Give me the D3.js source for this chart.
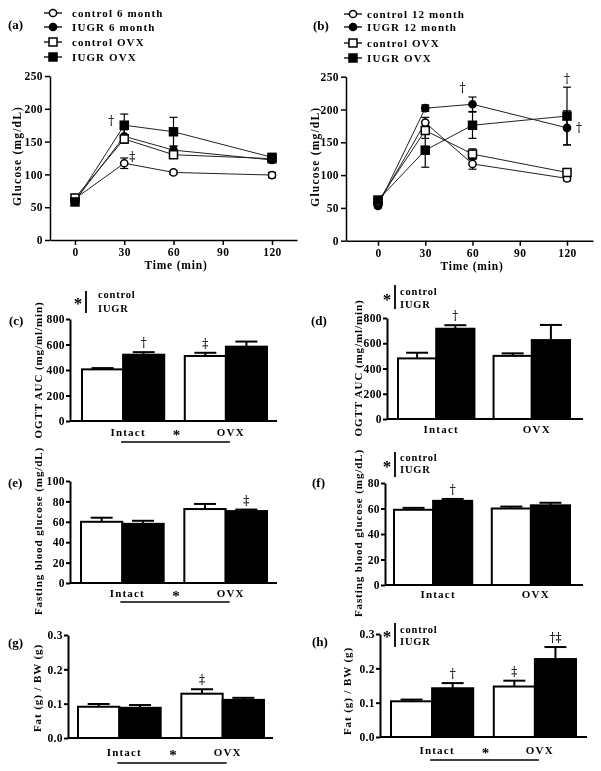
<!DOCTYPE html>
<html><head><meta charset="utf-8">
<script src="https://cdn.jsdelivr.net/npm/d3@7"></script>
<style>
body{margin:0;background:#fff;}
#chart{filter:grayscale(1);}
svg text{font-family:"Liberation Serif","Times New Roman",serif;font-weight:bold;fill:#000;}
svg text.mark{font-family:"DejaVu Serif",serif;font-weight:normal;fill:#000;}
</style></head><body>
<svg id="chart" width="601" height="771"></svg>
<script>
// ---------------- DATA ----------------
const times = [0, 30, 60, 120];
const timeTicks = [0, 30, 60, 90, 120];
const legendA = ["control 6 month", "IUGR 6 month", "control OVX", "IUGR OVX"];
const legendB = ["control 12 month", "IUGR 12 month", "control OVX", "IUGR OVX"];
// panel (a)
const aControl6 = [63, 117, 103, 99];
const aIUGR6 = [60, 158, 137, 122];
const aControlOVX = [64, 154, 130, 124];
const aIUGROVX = [58, 175, 165, 126];
const aControl6Err = [3, 8, 3, 4];
const aIUGR6Err = [3, 10, 6, 4];
const aControlOVXErr = [3, 6, 5, 3];
const aIUGROVXErr = [3, 17, 22, 4];
// panel (b)
const bControl12 = [56, 180, 117, 95];
const bIUGR12 = [53, 202, 208, 172];
const bControlOVX = [60, 168, 132, 104];
const bIUGROVX = [62, 138, 176, 190];
const bControl12Err = [3, 8, 8, 4];
const bIUGR12Err = [3, 5, 11, 26];
const bControlOVXErr = [4, 12, 8, 4];
const bIUGROVXErr = [4, 26, 20, 44];
const glucoseTicks = [0, 50, 100, 150, 200, 250];

// bar panels
const groups = ["Intact", "OVX"];
const barSeries = ["control", "IUGR"];
const aucTicks = [0, 200, 400, 600, 800];
const cControl = [405, 510], cIUGR = [520, 583];
const cControlErr = [10, 25], cIUGRErr = [20, 40];
const dControl = [480, 500], dIUGR = [715, 625];
const dControlErr = [45, 20], dIUGRErr = [28, 120];
const eTicks = [0, 20, 40, 60, 80, 100];
const eControl = [60, 72.5], eIUGR = [58, 70.5];
const eControlErr = [4, 5], eIUGRErr = [3, 1.5];
const fTicks = [0, 20, 40, 60, 80];
const fControl = [59, 60], fIUGR = [66, 62.5];
const fControlErr = [1.5, 1.5], fIUGRErr = [1.5, 2];
const fatTicks = [0, 0.1, 0.2, 0.3];
const gControl = [0.091, 0.129], gIUGR = [0.088, 0.111];
const gControlErr = [0.008, 0.013], gIUGRErr = [0.008, 0.006];
const hControl = [0.104, 0.147], hIUGR = [0.142, 0.227];
const hControlErr = [0.005, 0.017], hIUGRErr = [0.015, 0.035];

// ---------------- DRAW ----------------
const svg = d3.select("#chart");
svg.append("rect").attr("width", 601).attr("height", 771).attr("fill", "#fff");

function styleAxis(g, sw) {
  g.selectAll("path,line").attr("stroke", "#000").attr("stroke-width", sw);
  g.selectAll("text").attr("font-size", 11.5).attr("fill", "#000").attr("letter-spacing", 0.4)
    .style("font-family", '"Liberation Serif",serif').style("font-weight", "bold");
}

function marker(g, type, cx, cy) {
  const open = type % 2 === 0;
  if (type < 2) {
    g.append("circle").attr("cx", cx).attr("cy", cy).attr("r", 3.6)
      .attr("fill", open ? "#fff" : "#000").attr("stroke", "#000").attr("stroke-width", 1.5);
  } else {
    g.append("rect").attr("x", cx - 4).attr("y", cy - 4).attr("width", 8).attr("height", 8)
      .attr("fill", open ? "#fff" : "#000").attr("stroke", "#000").attr("stroke-width", 1.5);
  }
}

function mark(g, x, y, t) {
  g.append("text").attr("class", "mark").attr("x", x).attr("y", y)
    .attr("text-anchor", "middle").attr("font-size", 12).text(t);
}

function linePanel(o) {
  const g = svg.append("g");
  const xs = d3.scaleLinear().domain([0, 120]).range([o.x0px, o.x120px]);
  const x = xs.copy().domain([xs.invert(o.left), xs.invert(o.right)]).range([o.left, o.right]);
  const y = d3.scaleLinear().domain([0, 250]).range([o.y0, o.yTop]);
  const ya = g.append("g").attr("transform", `translate(${o.left},0)`)
    .call(d3.axisLeft(y).tickValues(glucoseTicks).tickSize(5).tickSizeOuter(0).tickPadding(2));
  styleAxis(ya, 1.5);
  const xa = g.append("g").attr("transform", `translate(0,${o.y0})`)
    .call(d3.axisBottom(x).tickValues(timeTicks).tickSize(5).tickSizeOuter(0).tickPadding(3));
  styleAxis(xa, 1.5);
  g.append("text").attr("x", o.xlabelX).attr("y", o.y0 + 29).attr("text-anchor", "middle")
    .attr("font-size", 11.5).attr("letter-spacing", 0.8).text("Time (min)");
  g.append("text").attr("transform", `translate(${o.ylabelX},${(o.y0 + o.yTop) / 2 - 2}) rotate(-90)`)
    .attr("text-anchor", "middle").attr("font-size", 11.5).attr("letter-spacing", 1.2).text("Glucose (mg/dL)");
  g.append("text").attr("x", o.tagX).attr("y", o.tagY).attr("font-size", 13).text(o.tag);

  const line = d3.line().x((d, i) => x(times[i])).y(d => y(d));
  o.series.forEach(s => {
    g.append("path").attr("d", line(s)).attr("fill", "none").attr("stroke", "#222").attr("stroke-width", 1);
  });
  o.series.forEach((s, k) => {
    s.forEach((v, i) => {
      const e = o.errs[k][i], cx = x(times[i]);
      g.append("line").attr("x1", cx).attr("x2", cx).attr("y1", y(v - e)).attr("y2", y(v + e))
        .attr("stroke", "#000").attr("stroke-width", 1.2);
      [v - e, v + e].forEach(t => g.append("line").attr("x1", cx - 4).attr("x2", cx + 4)
        .attr("y1", y(t)).attr("y2", y(t)).attr("stroke", "#000").attr("stroke-width", 1.2));
    });
  });
  o.series.forEach((s, k) => s.forEach((v, i) => marker(g, k, x(times[i]), y(v))));
  // legend
  o.legend.forEach((lab, k) => {
    const cy = o.legRows[k];
    g.append("line").attr("x1", o.legX - 9).attr("x2", o.legX + 9).attr("y1", cy).attr("y2", cy)
      .attr("stroke", "#000").attr("stroke-width", 1.3);
    marker(g, k, o.legX, cy);
    g.append("text").attr("x", o.legTextX).attr("y", cy + 4).attr("font-size", 11)
      .attr("letter-spacing", 1.1).text(lab);
  });
  o.marks.forEach(m => {
    const v = o.series[m.s][m.i];
    mark(g, x(times[m.i]) + m.dx, y(v) + m.dy, m.t);
  });
}

function starLegend(g, sx, sy, bx, by1, by2, tx, t1, t2) {
  g.append("text").attr("x", sx).attr("y", sy + 8).attr("text-anchor", "middle").attr("font-size", 17).text("*");
  g.append("line").attr("x1", bx).attr("x2", bx).attr("y1", by1).attr("y2", by2).attr("stroke", "#000").attr("stroke-width", 1.8);
  g.append("text").attr("x", tx).attr("y", t1).attr("font-size", 10.5).attr("letter-spacing", 0.8).text("control");
  g.append("text").attr("x", tx).attr("y", t2).attr("font-size", 10.5).attr("letter-spacing", 0.8).text("IUGR");
}

function barPanel(o) {
  const g = svg.append("g");
  const x0 = d3.scaleBand().domain(groups).range([o.barL, o.barR]).paddingInner(0.2);
  const x1 = d3.scaleBand().domain(barSeries).range([0, x0.bandwidth()]);
  const y = d3.scaleLinear().domain([0, o.yMax]).range([o.y0, o.yTop]);
  const ya = g.append("g").attr("transform", `translate(${o.axisX},0)`)
    .call(d3.axisLeft(y).tickValues(o.ticks).tickSize(4).tickSizeOuter(0).tickPadding(1)
      .tickFormat(o.fmt ? d3.format(o.fmt) : d3.format("d")));
  styleAxis(ya, 2);
  g.append("line").attr("x1", o.axisX).attr("x2", o.axisEnd).attr("y1", o.y0).attr("y2", o.y0)
    .attr("stroke", "#000").attr("stroke-width", 2);
  g.append("text").attr("transform", `translate(${o.ylabelX},${o.ylabelY}) rotate(-90)`)
    .attr("text-anchor", "middle").attr("font-size", 11).attr("letter-spacing", 0.9).text(o.ylabel);
  g.append("text").attr("x", o.tagX).attr("y", o.tagY).attr("font-size", 13).text(o.tag);

  const vals = [o.control, o.iugr], errs = [o.controlErr, o.iugrErr];
  barSeries.forEach((s, k) => {
    groups.forEach((gr, i) => {
      const v = vals[k][i], e = errs[k][i];
      const bx = x0(gr) + x1(s), bw = x1.bandwidth();
      const cx = bx + bw / 2;
      g.append("line").attr("x1", cx).attr("x2", cx).attr("y1", y(v)).attr("y2", y(v + e))
        .attr("stroke", "#000").attr("stroke-width", 2);
      g.append("line").attr("x1", cx - 11).attr("x2", cx + 11).attr("y1", y(v + e)).attr("y2", y(v + e))
        .attr("stroke", "#000").attr("stroke-width", 2);
      g.append("rect").attr("x", bx).attr("y", y(v)).attr("width", bw).attr("height", o.y0 - y(v))
        .attr("fill", k === 0 ? "#fff" : "#000").attr("stroke", "#000").attr("stroke-width", 2);
    });
  });
  (o.marks || []).forEach(m => {
    const k = barSeries.indexOf(m.s), i = groups.indexOf(m.g);
    const v = vals[k][i] + errs[k][i];
    const cx = x0(m.g) + x1(m.s) + x1.bandwidth() / 2;
    mark(g, cx, y(v) - 5, m.t);
  });
  groups.forEach(gr => {
    g.append("text").attr("x", x0(gr) + x0.bandwidth() / 2 + 5).attr("y", o.catY)
      .attr("text-anchor", "middle").attr("font-size", 11).attr("letter-spacing", 1.2).text(gr);
  });
  if (o.under) {
    const c1 = x0("Intact") + x0.bandwidth() / 2, c2 = x0("OVX") + x0.bandwidth() / 2;
    g.append("text").attr("x", (c1 + c2) / 2 + 2).attr("y", o.catY + 4).attr("text-anchor", "middle")
      .attr("font-size", 15).text("*");
    g.append("line").attr("x1", c1 - 2).attr("x2", c2 + 4).attr("y1", o.underY).attr("y2", o.underY)
      .attr("stroke", "#000").attr("stroke-width", 1.5);
  }
  if (o.leg) starLegend(g, ...o.leg);
}

linePanel({
  left: 50, right: 297, x0px: 75, x120px: 272, y0: 240, yTop: 76,
  xlabelX: 176, ylabelX: 21, tag: "(a)", tagX: 8, tagY: 29,
  series: [aControl6, aIUGR6, aControlOVX, aIUGROVX],
  errs: [aControl6Err, aIUGR6Err, aControlOVXErr, aIUGROVXErr],
  legend: legendA, legX: 53, legTextX: 72, legRows: [13, 27, 42, 57],
  marks: [{ s: 3, i: 1, t: "†", dx: -13, dy: 0 }, { s: 0, i: 1, t: "‡", dx: 8, dy: -2 }]
});
linePanel({
  left: 346, right: 593, x0px: 378, x120px: 567, y0: 240.7, yTop: 76.7,
  xlabelX: 472, ylabelX: 319, tag: "(b)", tagX: 313, tagY: 30,
  series: [bControl12, bIUGR12, bControlOVX, bIUGROVX],
  errs: [bControl12Err, bIUGR12Err, bControlOVXErr, bIUGROVXErr],
  legend: legendB, legX: 353, legTextX: 367, legRows: [14, 27, 43, 58],
  marks: [{ s: 1, i: 2, t: "†", dx: -10, dy: -12 }, { s: 3, i: 3, t: "†", dx: 0, dy: -33 }, { s: 1, i: 3, t: "†", dx: 12, dy: 4 }]
});

barPanel({
  axisX: 70, axisEnd: 277, barL: 82, barR: 267, y0: 421, yTop: 319, yMax: 800, ticks: aucTicks,
  ylabel: "OGTT AUC (mg/ml/min)", ylabelX: 42, ylabelY: 370, tag: "(c)", tagX: 9, tagY: 325,
  control: cControl, iugr: cIUGR, controlErr: cControlErr, iugrErr: cIUGRErr,
  marks: [{ s: "IUGR", g: "Intact", t: "†" }, { s: "control", g: "OVX", t: "‡" }],
  catY: 436, under: true, underY: 442,
  leg: [78, 301, 86, 291, 313, 98, 298, 312]
});
barPanel({
  axisX: 387, axisEnd: 583, barL: 398, barR: 570, y0: 419, yTop: 318, yMax: 800, ticks: aucTicks,
  ylabel: "OGTT AUC (mg/ml/min)", ylabelX: 362, ylabelY: 368, tag: "(d)", tagX: 311, tagY: 325,
  control: dControl, iugr: dIUGR, controlErr: dControlErr, iugrErr: dIUGRErr,
  marks: [{ s: "IUGR", g: "Intact", t: "†" }],
  catY: 433, under: false,
  leg: [387, 297, 395, 285, 309, 400, 295, 308]
});
barPanel({
  axisX: 70, axisEnd: 277, barL: 81, barR: 267, y0: 583, yTop: 481, yMax: 100, ticks: eTicks,
  ylabel: "Fasting blood glucose (mg/dL)", ylabelX: 42, ylabelY: 531, tag: "(e)", tagX: 8, tagY: 487,
  control: eControl, iugr: eIUGR, controlErr: eControlErr, iugrErr: eIUGRErr,
  marks: [{ s: "IUGR", g: "OVX", t: "‡" }],
  catY: 597, under: true, underY: 602
});
barPanel({
  axisX: 385, axisEnd: 583, barL: 394, barR: 570, y0: 585, yTop: 483, yMax: 80, ticks: fTicks,
  ylabel: "Fasting blood glucose (mg/dL)", ylabelX: 362, ylabelY: 533, tag: "(f)", tagX: 312, tagY: 487,
  control: fControl, iugr: fIUGR, controlErr: fControlErr, iugrErr: fIUGRErr,
  marks: [{ s: "IUGR", g: "Intact", t: "†" }],
  catY: 598, under: false,
  leg: [387, 464, 395, 452, 477, 400, 461, 473]
});
barPanel({
  axisX: 68, axisEnd: 273, barL: 78, barR: 264, y0: 738, yTop: 635, yMax: 0.3, ticks: fatTicks, fmt: ".1f",
  ylabel: "Fat (g) / BW (g)", ylabelX: 41, ylabelY: 688, tag: "(g)", tagX: 8, tagY: 647,
  control: gControl, iugr: gIUGR, controlErr: gControlErr, iugrErr: gIUGRErr,
  marks: [{ s: "control", g: "OVX", t: "‡" }],
  catY: 756, under: true, underY: 763
});
barPanel({
  axisX: 380, axisEnd: 587, barL: 391, barR: 576, y0: 737, yTop: 634, yMax: 0.3, ticks: fatTicks, fmt: ".1f",
  ylabel: "Fat (g) / BW (g)", ylabelX: 351, ylabelY: 691, tag: "(h)", tagX: 312, tagY: 646,
  control: hControl, iugr: hIUGR, controlErr: hControlErr, iugrErr: hIUGRErr,
  marks: [{ s: "IUGR", g: "Intact", t: "†" }, { s: "control", g: "OVX", t: "‡" }, { s: "IUGR", g: "OVX", t: "†‡" }],
  catY: 754, under: true, underY: 760,
  leg: [387, 634, 395, 623, 647, 400, 633, 645]
});
</script>
</body></html>
